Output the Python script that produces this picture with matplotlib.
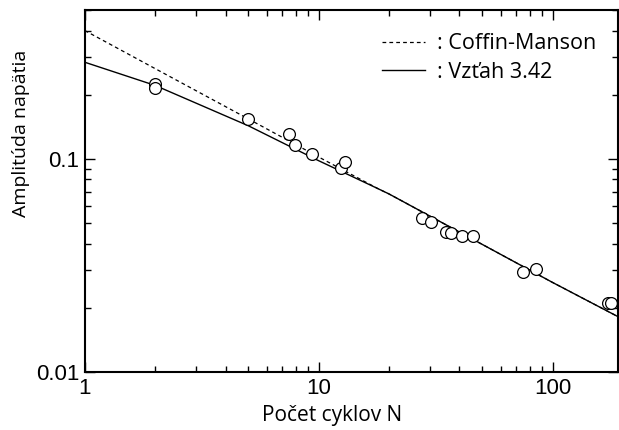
import numpy as np
import matplotlib.pyplot as plt
from matplotlib.ticker import FixedLocator, FixedFormatter, LogLocator, NullFormatter

# measured points (cycles, strain amplitude)
N_pts = [2, 2, 5, 7.45, 7.9, 9.4, 12.4, 12.9, 27.7, 30.3, 35.1, 36.8, 41, 45.7, 74.5, 84.7, 173, 178]
A_pts = [0.225, 0.215, 0.153, 0.131, 0.116, 0.105, 0.091, 0.097, 0.0527, 0.0505,
         0.0453, 0.045, 0.0433, 0.0433, 0.0293, 0.0303, 0.0211, 0.0211]

# Coffin-Manson line (joins the other curve near N=18)
N_cm = [1, 2, 5, 10, 18, 20, 50, 100, 190]
A_cm = [0.40, 0.265, 0.154, 0.102, 0.0723, 0.0684, 0.0397, 0.0263, 0.0182]

# Vztah 3.42 curve
N_v = [1, 2, 5, 10, 18, 20, 50, 100, 190]
A_v = [0.284, 0.221, 0.143, 0.098, 0.0723, 0.0684, 0.0397, 0.0263, 0.0182]

fig = plt.figure(figsize=(6.19, 4.30), dpi=100)
ax = fig.add_axes([0.137, 0.135, 0.861, 0.842])

ax.plot(N_cm, A_cm, color="black", linestyle=(0, (3, 2.5)), linewidth=0.9, label=": Coffin-Manson")
ax.plot(N_v, A_v, color="black", linestyle="-", linewidth=1.0, label=": Vzťah 3.42")
ax.plot(N_pts, A_pts, linestyle="none", marker="o", markersize=8.5,
        markerfacecolor="white", markeredgecolor="black", markeredgewidth=0.9)

ax.set_xscale("log")
ax.set_yscale("log")
ax.set_xlim(1, 190)
ax.set_ylim(0.01, 0.5)

ax.xaxis.set_major_locator(FixedLocator([1, 10, 100]))
ax.xaxis.set_major_formatter(FixedFormatter(["1", "10", "100"]))
ax.xaxis.set_minor_locator(LogLocator(base=10, subs=np.arange(2, 10)))
ax.xaxis.set_minor_formatter(NullFormatter())
ax.yaxis.set_major_locator(FixedLocator([0.01, 0.1]))
ax.yaxis.set_major_formatter(FixedFormatter(["0.01", "0.1"]))
ax.yaxis.set_minor_locator(LogLocator(base=10, subs=np.arange(2, 10)))
ax.yaxis.set_minor_formatter(NullFormatter())

ax.tick_params(which="both", direction="in", top=True, right=True, width=1.0)
ax.tick_params(which="major", length=7, labelsize=16, pad=4)
ax.tick_params(which="minor", length=4.5)
for lab in ax.get_xticklabels() + ax.get_yticklabels():
    lab.set_family("Liberation Sans")
for s in ax.spines.values():
    s.set_linewidth(1.5)

ax.set_xlabel("Počet cyklov N", family="Open Sans", fontsize=15)
ax.set_ylabel("Amplitúda napätia", family="Open Sans", fontsize=14)
ax.xaxis.set_label_coords(0.463, -0.092)
ax.yaxis.set_label_coords(-0.103, 0.66)

ax.legend(loc="upper left", bbox_to_anchor=(0.557, 0.936), frameon=False,
          handlelength=2.0, handletextpad=0.55, borderpad=0, borderaxespad=0,
          labelspacing=0.35, prop={"family": "Open Sans", "size": 15.5})

fig.savefig("out.png", dpi=100)
